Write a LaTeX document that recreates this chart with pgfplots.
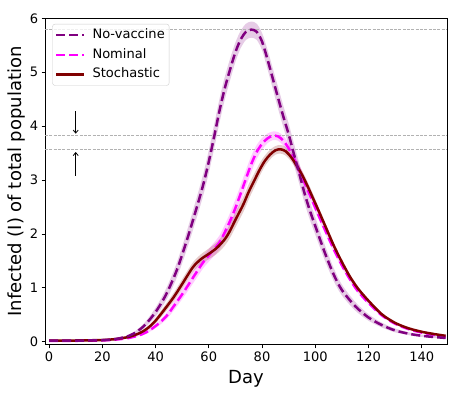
\documentclass[border=0pt]{standalone}
\usepackage{fontspec}
\setmainfont{DejaVu Sans}
\usepackage{pgfplots}
\usepackage{pgfplotstable}
\pgfplotsset{compat=1.18}
\usepgfplotslibrary{fillbetween}
\usetikzlibrary{arrows.meta}

\definecolor{nvcol}{RGB}{128,0,128}
\definecolor{nocol}{RGB}{255,0,255}
\definecolor{stcol}{RGB}{128,0,0}

% no-vaccine: day, mean, band low, band high
\pgfplotstableread{
x y lo hi
0 2000 2000 2000
10 2000 2000 2000
20 3000 3000 3000
25 5000 4500 5500
30 11000 9500 12500
33 19000 16000 22000
36 31000 26000 36000
40 55000 47000 63000
44 88000 77000 99000
48 133000 119000 147000
52 192000 175000 209000
56 258000 239000 277000
58 293000 273000 313000
60 334000 313000 355000
62 380000 358000 402000
64 428000 406000 450000
66 470000 449000 491000
68 505000 485000 525000
70 537000 519000 555000
72 561000 545000 577000
74 575000 560000 590000
76 579000 564000 594000
78 575000 560000 590000
80 557000 541000 573000
82 525000 507000 543000
84 489000 470000 508000
86 453000 433000 473000
88 418000 398000 438000
90 385000 365000 405000
92 348000 328000 368000
94 312000 293000 331000
96 275000 257000 293000
98 243000 226000 260000
100 215000 199000 231000
102 187000 172000 202000
104 160000 146000 174000
107 124000 112000 136000
110 96000 86000 106000
115 66000 58000 74000
120 45000 39000 51000
125 31000 26500 35500
130 21000 17500 24500
136 14000 11500 16500
142 10000 8000 12000
149 7000 5500 8500
}\nvtab

% nominal
\pgfplotstableread{
x y lo hi
0 1500 1500 1500
10 1800 1800 1800
20 2500 2500 2500
25 4000 4000 4000
30 7000 6200 7800
35 14000 12000 16000
38 22000 19000 25000
41 33000 29000 37000
44 47000 41000 53000
47 67000 59000 75000
50 88000 79000 97000
52 103000 93000 113000
55 126000 115000 137000
58 148000 137000 159000
61 166000 154000 178000
64 184000 171000 197000
66 203000 189000 217000
68 224000 209000 239000
70 248000 232000 264000
72 275000 259000 291000
74 303000 287000 319000
76 330000 315000 345000
78 352000 339000 365000
80 367000 356000 378000
82 377000 368000 386000
84 382000 374000 390000
86 381000 373000 389000
88 373000 364000 382000
90 359000 349000 369000
92 340000 329000 351000
94 318000 307000 329000
96 295000 285000 305000
98 272000 263000 281000
100 249000 241000 257000
102 226000 219000 233000
104 204000 197500 210500
107 171000 165500 176500
110 142000 137000 147000
113 116000 112000 120000
116 94000 90500 97500
120 72000 69000 75000
125 49000 47000 51000
130 33500 32000 35000
135 23500 22300 24700
140 17000 16000 18000
145 12500 11700 13300
149 9500 8900 10100
}\notab

% stochastic
\pgfplotstableread{
x y lo hi
0 2000 2000 2000
10 2300 2300 2300
20 3200 3200 3200
25 5000 5000 5000
30 9000 8000 10000
34 16000 14000 18000
37 25000 22000 28000
40 39000 34000 44000
44 64000 57000 71000
47 84000 76000 92000
50 107000 98000 116000
54 138000 129000 147000
57 153000 144000 162000
60 163000 153000 173000
63 174000 163000 185000
66 190000 178000 202000
68 206000 193000 219000
70 226000 212000 240000
73 255000 241000 269000
75 278000 264000 292000
77 298000 285000 311000
79 318000 306000 330000
81 335000 325000 345000
83 347000 338000 356000
85 355000 347000 363000
87 357000 349000 365000
89 353000 345000 361000
91 342000 334000 350000
93 327000 319000 335000
95 310000 302000 318000
97 290000 282000 298000
99 268000 260000 276000
101 246000 239000 253000
104 212000 206000 218000
107 178000 173000 183000
110 148000 143500 152500
113 121000 117000 125000
116 99000 95500 102500
120 76000 73000 79000
125 51000 48500 53500
130 35000 33000 37000
135 25000 23500 26500
140 18500 17300 19700
145 14000 13000 15000
149 11000 10200 11800
}\sttab

\begin{document}
\begin{tikzpicture}
\begin{axis}[
  scale only axis, width=401pt, height=326pt,
  xmin=-1.5, xmax=149.5, ymin=-5600, ymax=600500,
  xtick={0,20,...,140},
  ytick={0,100000,200000,300000,400000,500000,600000},
  yticklabels={0,1,2,3,4,5,6},
  scaled y ticks=false,
  tick pos=left, tick align=outside, major tick length=3.5pt,
  tick style={black, line width=0.8pt},
  axis line style={black, line width=0.8pt},
  /pgf/number format/assume math mode=true,
  tick label style={font=\fontsize{13}{15}\selectfont},
  label style={font=\fontsize{18}{21}\selectfont},
  xlabel={Day},
  ylabel={Infected (I) of total population},
  xlabel style={at={(axis description cs:0.5,-0.12)}, anchor=base},
  ylabel style={at={(axis description cs:-0.07,0.5)}, anchor=center},
  legend style={at={(rel axis cs:0.018,0.982)}, anchor=north west,
    draw=black!20, rounded corners=2.5pt, fill=white, fill opacity=0.8, text opacity=1,
    font=\fontsize{13}{15}\selectfont, inner xsep=2.4pt, inner ysep=3pt, row sep=3.3pt,
    nodes={inner xsep=2pt, inner ysep=2pt, text height=9.5pt, text depth=2.7pt},
    /tikz/every odd column/.append style={column sep=5pt}},
  legend cell align=left,
  legend image code/.code={\draw[#1] (0pt,0pt) -- (28pt,0pt);},
]
% legend entries
\addlegendimage{nvcol, line width=2.5pt, dash pattern=on 9pt off 4pt}
\addlegendentry{No-vaccine\hspace{3.3pt}}
\addlegendimage{nocol, line width=2.5pt, dash pattern=on 9pt off 4pt}
\addlegendentry{Nominal}
\addlegendimage{stcol, line width=2.5pt}
\addlegendentry{Stochastic}

% peak reference lines
\addplot[forget plot, gray!60, line width=0.8pt, dash pattern=on 3pt off 1.3pt] coordinates {(-1.5,579000) (149.5,579000)};
\addplot[forget plot, gray!60, line width=0.8pt, dash pattern=on 3pt off 1.3pt] coordinates {(-1.5,382000) (149.5,382000)};
\addplot[forget plot, gray!60, line width=0.8pt, dash pattern=on 3pt off 1.3pt] coordinates {(-1.5,357000) (149.5,357000)};

% bands
\addplot[forget plot, draw=none, smooth, name path=nvlo] table[x=x, y=lo] {\nvtab};
\addplot[forget plot, draw=none, smooth, name path=nvhi] table[x=x, y=hi] {\nvtab};
\addplot[forget plot, fill=nvcol, fill opacity=0.2, draw=none] fill between[of=nvlo and nvhi];
\addplot[forget plot, draw=none, smooth, name path=nolo] table[x=x, y=lo] {\notab};
\addplot[forget plot, draw=none, smooth, name path=nohi] table[x=x, y=hi] {\notab};
\addplot[forget plot, fill=nocol, fill opacity=0.2, draw=none] fill between[of=nolo and nohi];
\addplot[forget plot, draw=none, smooth, name path=stlo] table[x=x, y=lo] {\sttab};
\addplot[forget plot, draw=none, smooth, name path=sthi] table[x=x, y=hi] {\sttab};
\addplot[forget plot, fill=stcol, fill opacity=0.2, draw=none] fill between[of=stlo and sthi];

% mean curves
\addplot[forget plot, nocol, line width=2.5pt, dash pattern=on 9pt off 4pt, smooth] table[x=x, y=y] {\notab};
\addplot[forget plot, stcol, line width=2.5pt, smooth] table[x=x, y=y] {\sttab};
\addplot[forget plot, nvcol, line width=2.5pt, dash pattern=on 9pt off 4pt, smooth] table[x=x, y=y] {\nvtab};

% arrows
\draw[black, line width=0.8pt, -{Straight Barb[length=3pt,width=5pt]}] (axis cs:10,428000) -- (axis cs:10,386000);
\draw[black, line width=0.8pt, -{Straight Barb[length=3pt,width=5pt]}] (axis cs:10,308000) -- (axis cs:10,352000);

\node[anchor=south west, inner sep=0pt, font=\fontsize{9}{10}\selectfont] at ([yshift=3pt]rel axis cs:0,1) {1e5};
\end{axis}
\path ([shift={(-45pt,-50pt)}]current axis.south west) rectangle ([shift={(9pt,18pt)}]current axis.north east);
\end{tikzpicture}
\end{document}
